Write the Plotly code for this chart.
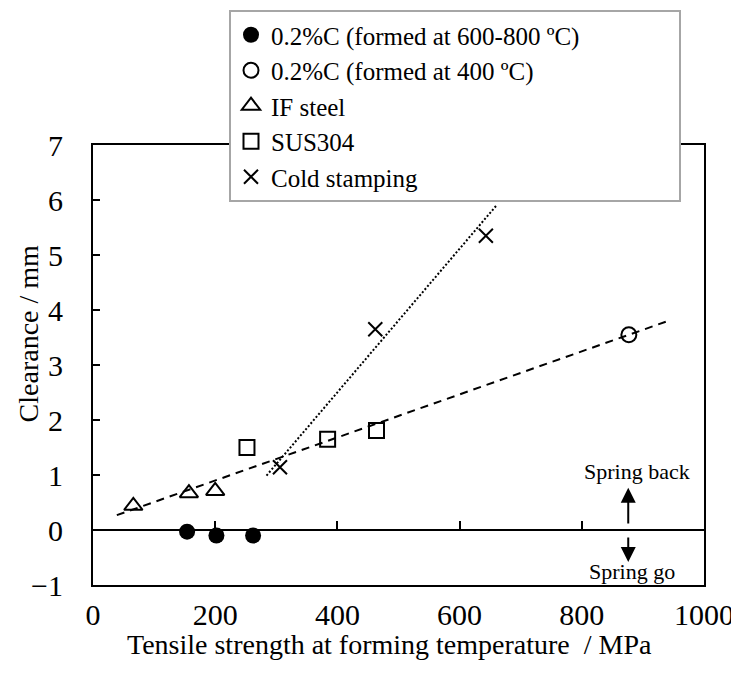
import plotly.graph_objects as go

# ---- data ----
c_hot_x = [154, 202, 262]
c_hot_y = [-0.03, -0.10, -0.10]
c_400_x = [877]
c_400_y = [3.55]
if_x = [66, 157, 200]
if_y = [0.44, 0.67, 0.71]
sus_x = [252, 384, 464]
sus_y = [1.50, 1.65, 1.81]
cold_x = [306, 462, 643]
cold_y = [1.14, 3.65, 5.35]

# trend lines (end points)
dash_x = [39, 941]
dash_y = [0.27, 3.80]
dot_x = [284, 661]
dot_y = [0.99, 5.91]

x_ticks = [0, 200, 400, 600, 800, 1000]
y_ticks = [-1, 0, 1, 2, 3, 4, 5, 6, 7]

FONT = "Liberation Serif"
BLACK = "black"
PAD = "\u00a0" * 15  # invisible padding that widens the legend box

fig = go.Figure()

fig.add_trace(go.Scatter(x=dash_x, y=dash_y, mode="lines", xaxis="x2",
                         line=dict(color=BLACK, width=2, dash="8px,6px"),
                         showlegend=False, hoverinfo="skip"))
fig.add_trace(go.Scatter(x=dot_x, y=dot_y, mode="lines",
                         line=dict(color=BLACK, width=2, dash="2px,2px"),
                         showlegend=False, hoverinfo="skip"))

fig.add_trace(go.Scatter(x=c_hot_x, y=c_hot_y, mode="markers",
                         name="0.2%C (formed at 600-800 ºC)" + PAD,
                         marker=dict(symbol="circle", size=16, color=BLACK)))
fig.add_trace(go.Scatter(x=c_400_x, y=c_400_y, mode="markers",
                         name="0.2%C (formed at 400 ºC)",
                         marker=dict(symbol="circle-open", size=15, color=BLACK,
                                     line=dict(width=2, color=BLACK))))
fig.add_trace(go.Scatter(x=if_x, y=if_y, mode="markers", name="IF steel",
                         marker=dict(symbol="triangle-up-open", size=16, color=BLACK,
                                     line=dict(width=2, color=BLACK))))
fig.add_trace(go.Scatter(x=sus_x, y=sus_y, mode="markers", name="SUS304",
                         marker=dict(symbol="square-open", size=15, color=BLACK,
                                     line=dict(width=2, color=BLACK))))
fig.add_trace(go.Scatter(x=cold_x, y=cold_y, mode="markers", name="Cold stamping",
                         marker=dict(symbol="x-thin-open", size=14, color=BLACK,
                                     line=dict(width=2, color=BLACK))))

tick_font = dict(family=FONT, size=30, color=BLACK)
title_font = dict(family=FONT, size=28, color=BLACK)

# page body has an 8px margin; plot area placed to match the reference window
fig.update_layout(
    width=731, height=657,
    margin=dict(l=85, r=35, t=137, b=80, autoexpand=False),
    paper_bgcolor="white", plot_bgcolor="white",
    font=dict(family=FONT, color=BLACK),
    xaxis=dict(range=[0, 1000], tickvals=x_ticks, showgrid=False, zeroline=False,
               showline=True, linecolor=BLACK, linewidth=2, mirror=True,
               ticks="", tickfont=tick_font, ticklabelstandoff=2,
               ticklabeloverflow="allow", automargin=False),
    xaxis2=dict(range=[0, 1000], tickvals=x_ticks, overlaying="x", anchor="free",
                position=0.125, showgrid=False, zeroline=False, showline=False,
                ticks="inside", ticklen=9, tickwidth=2, tickcolor=BLACK,
                showticklabels=False),
    yaxis=dict(range=[-1, 7], tickvals=y_ticks, showgrid=False,
               zeroline=True, zerolinecolor=BLACK, zerolinewidth=2,
               showline=True, linecolor=BLACK, linewidth=2, mirror=True,
               ticks="inside", ticklen=7, tickwidth=2, tickcolor=BLACK,
               tickfont=tick_font, ticklabelstandoff=22,
               ticklabeloverflow="allow", automargin=False),
    legend=dict(x=(229 - 93) / 611, xanchor="left", y=(585 - 10) / 440, yanchor="top",
                bgcolor="white", bordercolor="#a6a6a6", borderwidth=2,
                font=dict(family=FONT, size=25, color=BLACK), itemwidth=30),
    annotations=[
        dict(text="Clearance / mm", xref="paper", yref="paper", x=-0.106, y=0.57,
             textangle=-90, showarrow=False, font=title_font,
             xanchor="center", yanchor="middle"),
        dict(text="Tensile strength at forming temperature  / MPa", xref="paper",
             yref="paper", x=0.486, y=-0.135, showarrow=False, font=title_font,
             xanchor="center", yanchor="middle"),
        dict(text="Spring back", x=890, y=1.07, xref="x", yref="y", showarrow=False,
             font=dict(family=FONT, size=22, color=BLACK)),
        dict(text="Spring go", x=882, y=-0.75, xref="x", yref="y", showarrow=False,
             font=dict(family=FONT, size=22, color=BLACK)),
        dict(text="", x=876, y=0.77, ax=876, ay=0.09, xref="x", yref="y",
             axref="x", ayref="y", showarrow=True, arrowhead=2, arrowsize=1.5,
             arrowwidth=2, arrowcolor=BLACK),
        dict(text="", x=876, y=-0.58, ax=876, ay=-0.11, xref="x", yref="y",
             axref="x", ayref="y", showarrow=True, arrowhead=2, arrowsize=1.5,
             arrowwidth=2, arrowcolor=BLACK),
    ],
)

fig.write_html("out.html")
